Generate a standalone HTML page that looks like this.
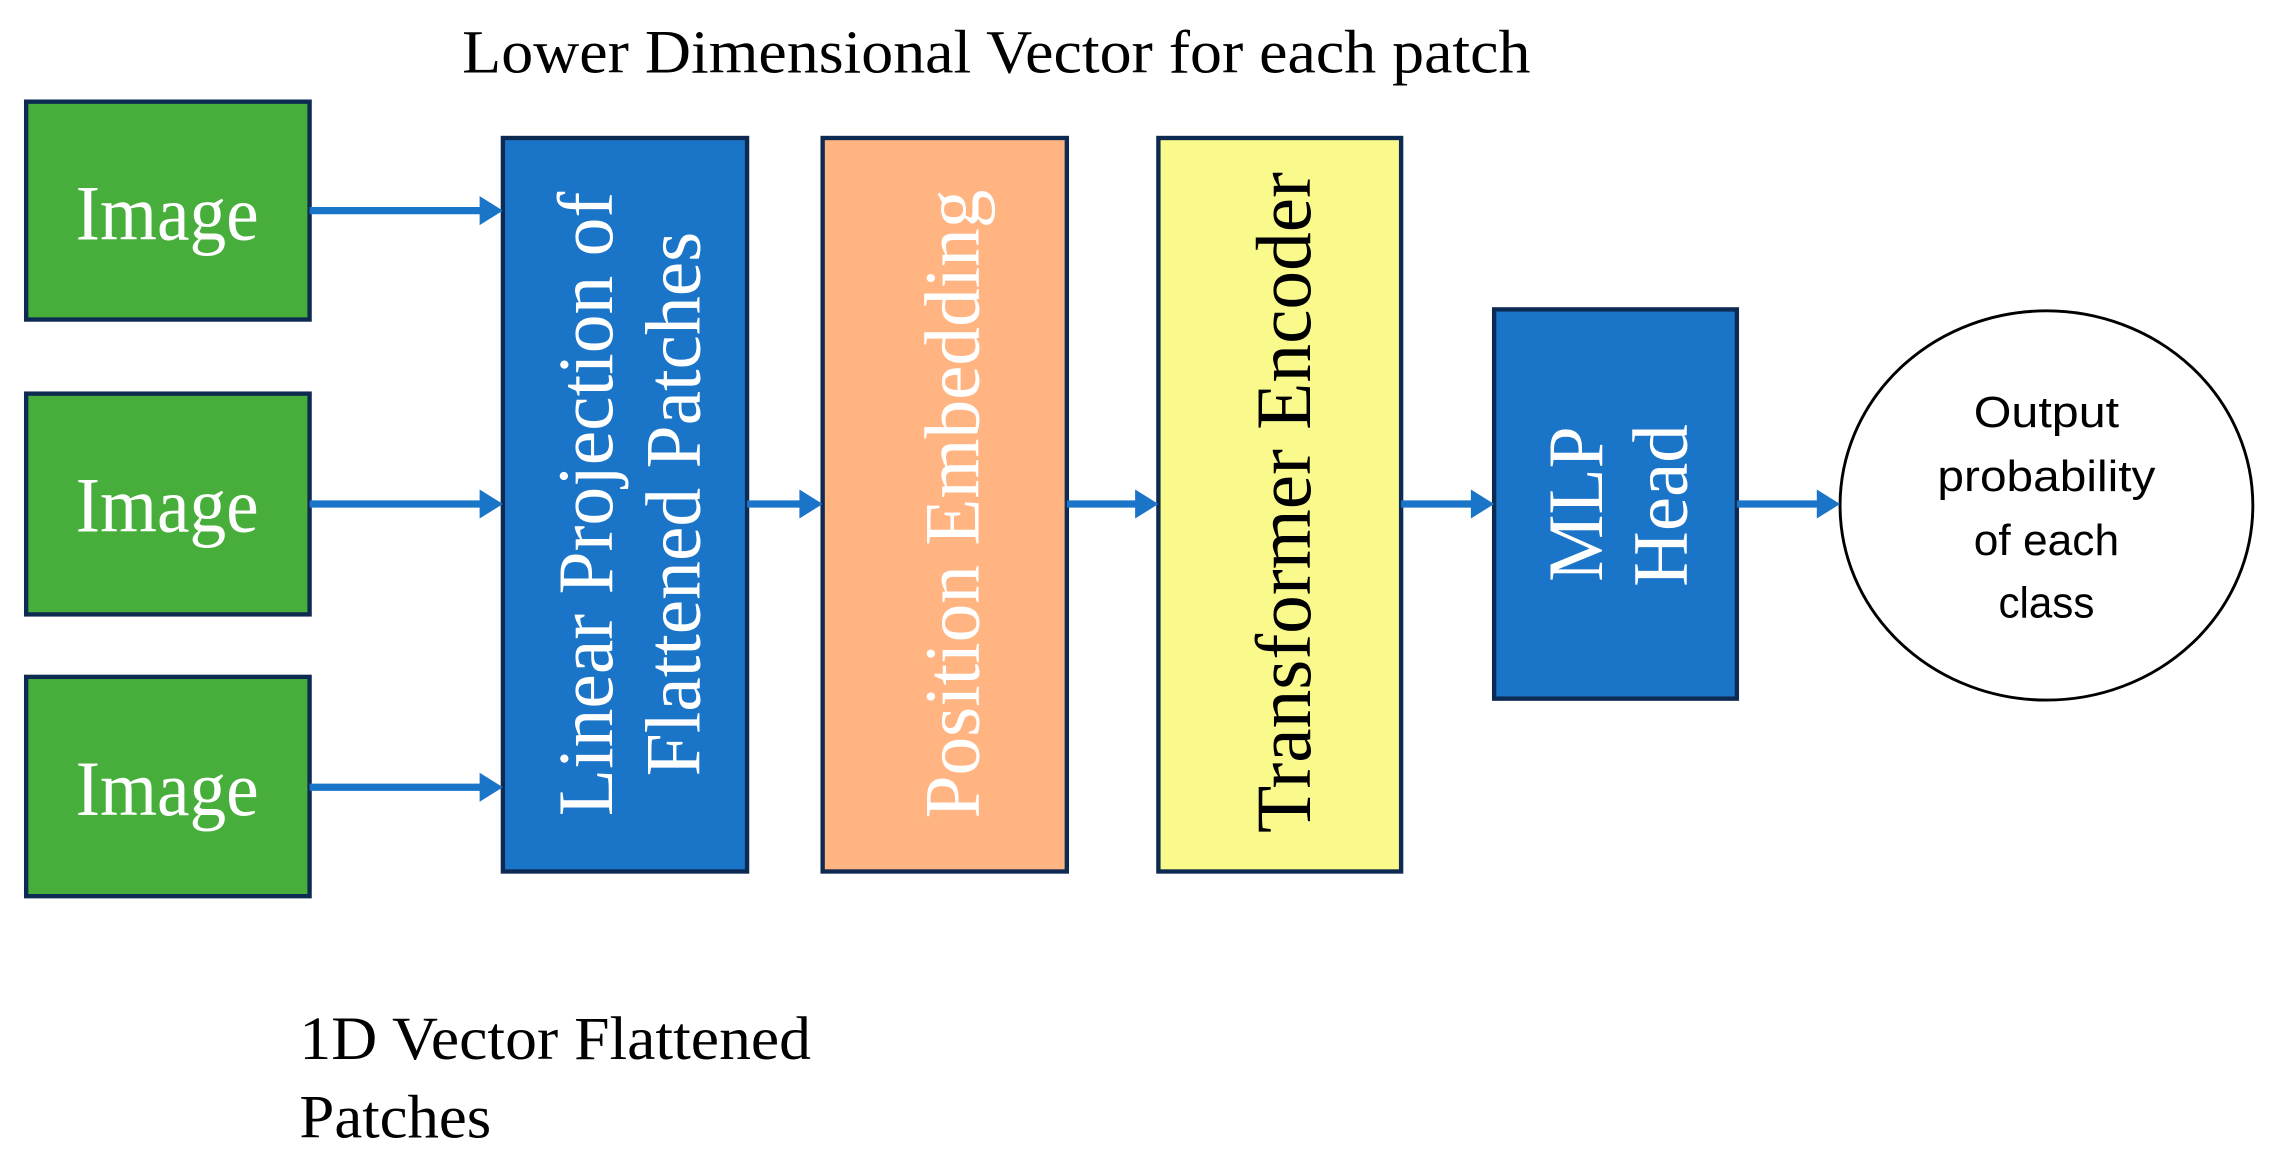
<!DOCTYPE html>
<html><head><meta charset="utf-8"><style>
html,body{margin:0;padding:0;background:#fff;}
svg{display:block;}
.t{font-family:"Liberation Serif",serif;}
.s{font-family:"Liberation Sans",sans-serif;}
</style></head><body>
<svg width="2279" height="1162" viewBox="0 0 1568 800" preserveAspectRatio="none" xmlns="http://www.w3.org/2000/svg">
<rect width="1568" height="800" fill="#fff"/>
<text class="t" x="318" y="50" font-size="42" fill="#000" textLength="735" lengthAdjust="spacingAndGlyphs">Lower Dimensional Vector for each patch</text>
<g stroke="#0d2a52" stroke-width="3">
<rect x="18" y="70" width="195" height="150" fill="#47AE3B"/>
<rect x="18" y="271" width="195" height="152" fill="#47AE3B"/>
<rect x="18" y="466" width="195" height="151" fill="#47AE3B"/>
<rect x="346" y="95" width="168" height="505" fill="#1A74C8"/>
<rect x="566" y="95" width="168" height="505" fill="#FFB482"/>
<rect x="797" y="95" width="167" height="505" fill="#F9F98C"/>
<rect x="1028" y="213" width="167" height="268" fill="#1A74C8"/>
</g>
<ellipse cx="1408" cy="348" rx="142" ry="134" fill="#fff" stroke="#000" stroke-width="2"/>
<g class="t" fill="#fff" font-size="54" text-anchor="middle">
<text x="115" y="165" textLength="126" lengthAdjust="spacingAndGlyphs">Image</text>
<text x="115" y="366" textLength="126" lengthAdjust="spacingAndGlyphs">Image</text>
<text x="115" y="561" textLength="126" lengthAdjust="spacingAndGlyphs">Image</text>
</g>
<g class="t" font-size="54" text-anchor="middle" dominant-baseline="central">
<text x="403" y="347" fill="#fff" transform="rotate(-90 403 347)" textLength="430" lengthAdjust="spacingAndGlyphs">Linear Projection of</text>
<text x="463" y="347" fill="#fff" transform="rotate(-90 463 347)" textLength="375" lengthAdjust="spacingAndGlyphs">Flattened Patches</text>
<text x="655" y="347" fill="#fff" transform="rotate(-90 655 347)" textLength="433" lengthAdjust="spacingAndGlyphs">Position Embedding</text>
<text x="883" y="346" fill="#000" transform="rotate(-90 883 346)" textLength="455" lengthAdjust="spacingAndGlyphs">Transformer Encoder</text>
<text x="1084" y="347" fill="#fff" transform="rotate(-90 1084 347)" textLength="107" lengthAdjust="spacingAndGlyphs">MLP</text>
<text x="1142" y="348" fill="#fff" transform="rotate(-90 1142 348)" textLength="112" lengthAdjust="spacingAndGlyphs">Head</text>
</g>
<g class="s" font-size="30" text-anchor="middle" fill="#000">
<text x="1408" y="294" textLength="100" lengthAdjust="spacingAndGlyphs">Output</text>
<text x="1408" y="338" textLength="150" lengthAdjust="spacingAndGlyphs">probability</text>
<text x="1408" y="382" textLength="100" lengthAdjust="spacingAndGlyphs">of each</text>
<text x="1408" y="425" textLength="66" lengthAdjust="spacingAndGlyphs">class</text>
</g>
<g class="t" font-size="42" fill="#000">
<text x="206" y="729" textLength="352" lengthAdjust="spacingAndGlyphs">1D Vector Flattened</text>
<text x="206" y="783" textLength="132" lengthAdjust="spacingAndGlyphs">Patches</text>
</g>
<g stroke="#1A74C8" stroke-width="5">
<line x1="213" y1="145" x2="332" y2="145"/>
<line x1="213" y1="347" x2="332" y2="347"/>
<line x1="213" y1="542" x2="332" y2="542"/>
<line x1="514" y1="347" x2="552" y2="347"/>
<line x1="734" y1="347" x2="783" y2="347"/>
<line x1="964" y1="347" x2="1014" y2="347"/>
<line x1="1195" y1="347" x2="1252" y2="347"/>
</g>
<g fill="#1A74C8">
<polygon points="330,135 346,145 330,155"/>
<polygon points="330,337 346,347 330,357"/>
<polygon points="330,532 346,542 330,552"/>
<polygon points="550,337 566,347 550,357"/>
<polygon points="781,337 797,347 781,357"/>
<polygon points="1012,337 1028,347 1012,357"/>
<polygon points="1250,337 1266,347 1250,357"/>
</g>
</svg>
</body></html>
